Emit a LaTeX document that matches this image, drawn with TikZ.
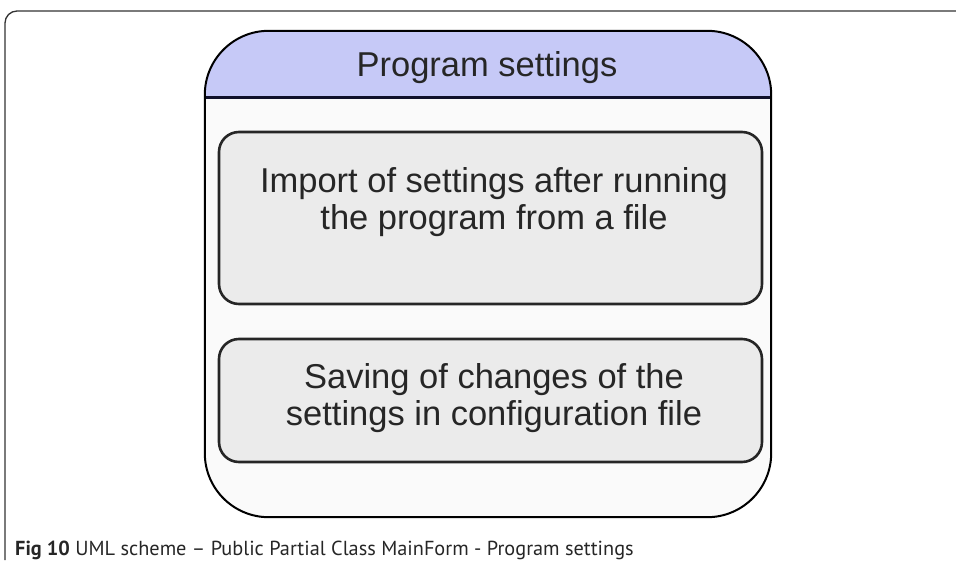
\documentclass[tikz,border=0pt]{standalone}
\usepackage{fontspec}
\setmainfont{Liberation Sans}
\newfontfamily\capfont{PT Sans}
\definecolor{hdr}{HTML}{C6C9F7}
\definecolor{bodyc}{HTML}{FAFAFA}
\definecolor{itemc}{HTML}{EBEBEB}
\definecolor{hdrline}{HTML}{10102A}
\definecolor{framec}{HTML}{333333}
\begin{document}
\begin{tikzpicture}[x=1pt,y=-1pt,
  mainbox/.style={rounded corners=64pt, minimum width=566pt, minimum height=486pt, inner sep=0pt},
  itembox/.style={draw=black!85, line width=2.6pt, rounded corners=20pt, minimum width=543pt, inner sep=0pt, fill=itemc},
  itemtext/.style={font=\fontsize{34.5}{37}\selectfont, align=center, inner sep=0pt, text=black!85},
  frameline/.style={draw=framec, line width=1.3pt, rounded corners=12pt},
]
\useasboundingbox (0,0) rectangle (956,560);
% outer frame
\coordinate (fbl) at (5,560);
\coordinate (ftl) at (5,11);
\coordinate (ftr) at (956,11);
\draw[frameline] (fbl) -- (ftl) -- (ftr);
% main container
\node[mainbox, fill=bodyc] (main) at (488,274) {};
\begin{scope}
  \clip (0,0) rectangle (956,97.5);
  \fill[hdr, rounded corners=64pt] (main.north west) rectangle (main.south east);
\end{scope}
\coordinate (hl) at (205,97.5);
\coordinate (hr) at (771,97.5);
\draw[draw=hdrline, line width=3pt] (hl) -- (hr);
\draw[line width=2pt, rounded corners=64pt] (main.north west) rectangle (main.south east);
\node[itemtext, anchor=base] (title) at (487,76) {Program settings};
% items
\node[itembox, minimum height=172pt] (imp) at (490.5,218) {};
\node[itemtext] (imptext) at (494,202) {Import of settings after running\\the program from a file};
\node[itembox, minimum height=123pt] (sav) at (490.5,400.5) {};
\node[itemtext] (savtext) at (494,398) {Saving of changes of the\\settings in configuration file};
% caption
\node[anchor=base west, inner sep=0pt, font=\capfont\fontsize{20.3}{24}\selectfont, text=black!85] (cap) at (15,555) {\textbf{Fig 10} UML scheme – Public Partial Class MainForm - Program settings};
\end{tikzpicture}
\end{document}
